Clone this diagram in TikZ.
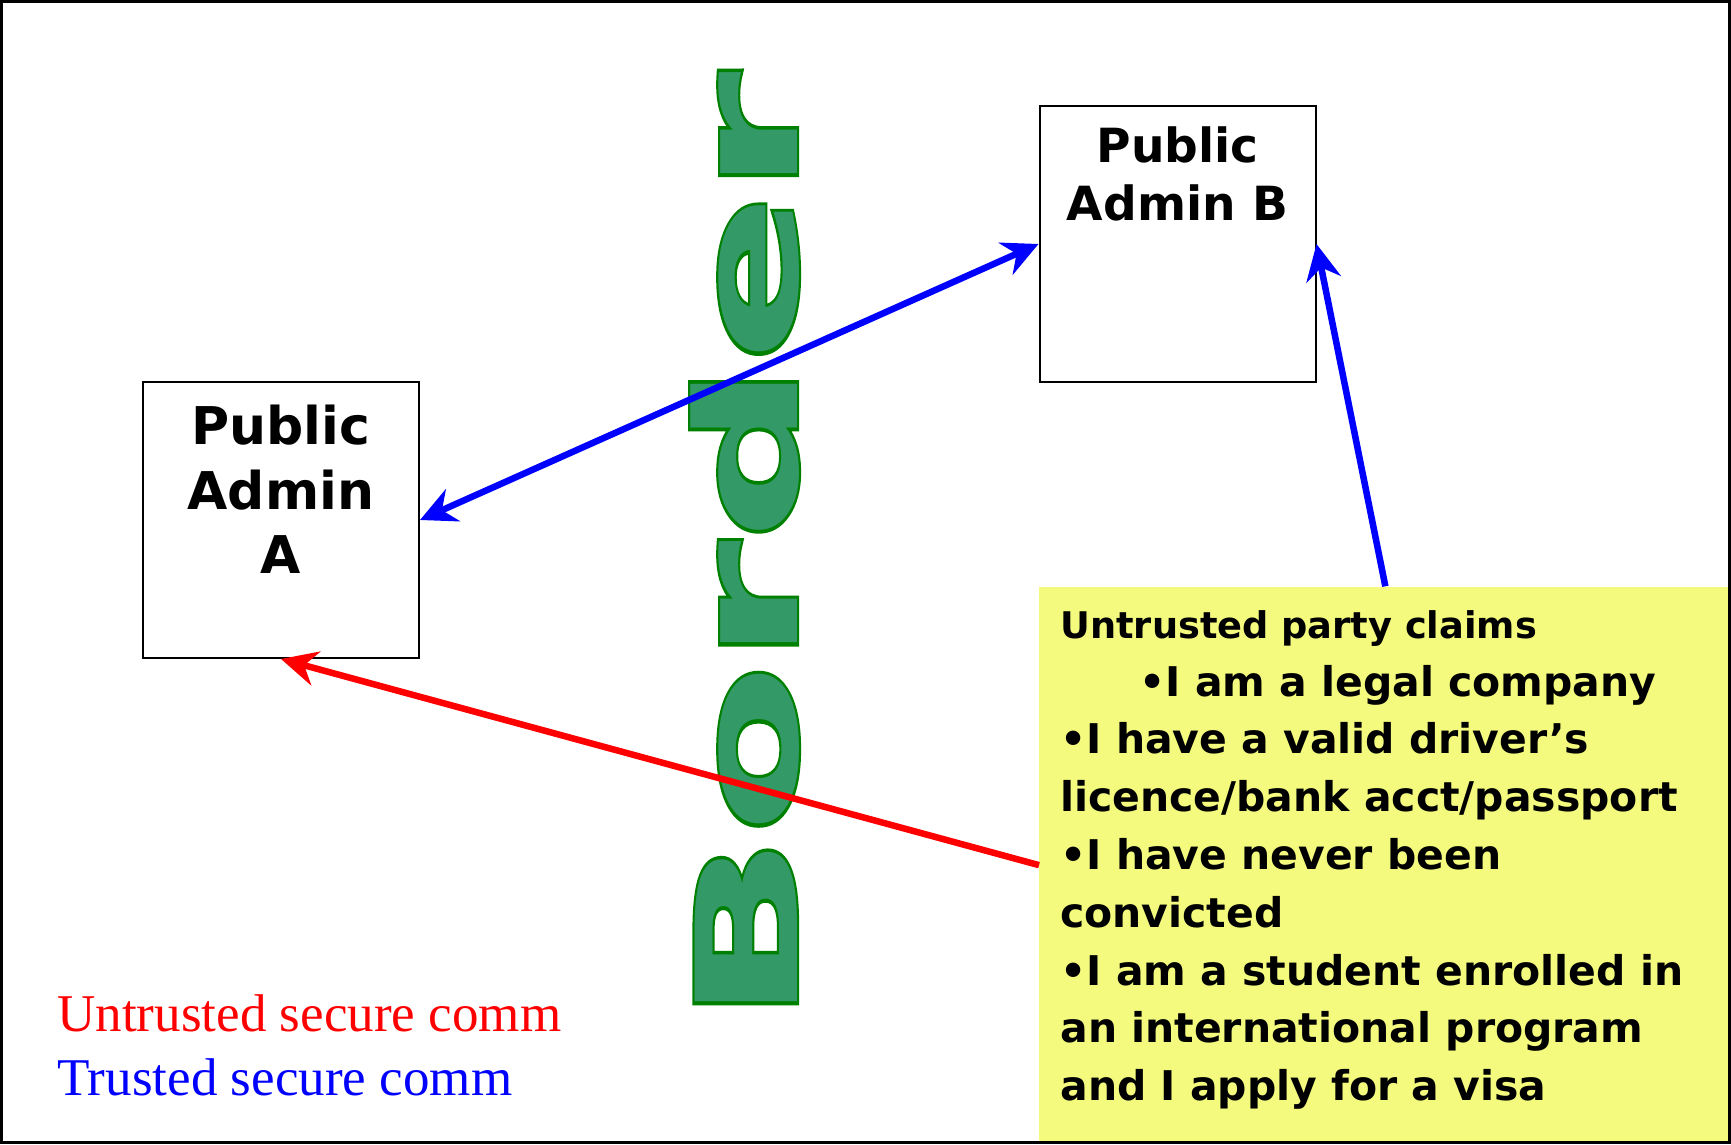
\documentclass[tikz,border=0pt]{standalone}
\usepackage{fontspec}
\usepackage{graphicx}
\usepackage{tikz}
\usetikzlibrary{arrows.meta,
positioning
}
\newfontfamily\dejavu{DejaVu Sans}
\newfontfamily\borderfont{DejaVu Sans Bold}
\newfontfamily\borderedgefont{DejaVu Sans Bold}[FakeBold=3]
\newfontfamily\legendfont{Liberation Serif}
\definecolor{bordergreen}{RGB}{51,153,102}
\definecolor{borderedge}{RGB}{0,128,0}
\definecolor{notefill}{RGB}{243,250,126}
\tikzset{>={Stealth[length=0.72cm, width=0.7cm, inset=0.24cm]}}
\tikzset{
    adminbox/.style = {draw, line width = 0.04cm, minimum width = 5.52cm, minimum height = 5.52cm, inner sep = 0},
    adminlabel/.style = {align = center, inner sep = 0},
    trusted/.style = {draw = blue, line width = 0.13cm},
    untrusted/.style = {draw = red, line width = 0.13cm},
    claims/.style = {align = left, inner sep = 0, font = \dejavu\bfseries\fontsize{23.3}{32.9}\selectfont}
}

\begin{document}
\begin{tikzpicture}
            \useasboundingbox (0,0) rectangle (34.62,22.88);

            % yellow note
            \node[fill = notefill, anchor = south west, minimum width = 13.84cm, minimum height = 11.14cm, inner sep = 0] (note) at (20.78,0) {};

            % the border
            \node[rotate = 90, anchor = base west, inner sep = 0, font = \fontsize{80}{96}\selectfont] (border) at (15.94,2.386)
                {\scalebox{1.77}[1]{\rlap{\borderedgefont\color{borderedge}Border}\borderfont\color{bordergreen}Border}};

            \node[adminbox] (pa) at (5.62,12.48) {};
            \node[adminbox] (pb) at (23.55,18.0) {};
            \node[adminlabel, font = \dejavu\bfseries\fontsize{29.6}{36.8}\selectfont, below = 0.47cm of pa.north] (palabel) {Public\\Admin\\A};
            \node[adminlabel, font = \dejavu\bfseries\fontsize{26.8}{33.2}\selectfont, below = 0.43cm of pb.north] (pblabel) {Public\\Admin B};

            \draw[trusted, <->] (pa.east) -- (pb.west);
            \draw[trusted, ->] (note.north) -- (pb.east);
            \draw[untrusted, ->] (note.west) -- (pa.south);

            \node[claims, anchor = north west] (claimtext) at (21.2,10.68) {%
                {\fontsize{20.9}{32.9}\selectfont Untrusted party claims}\\
                \hspace*{1.58cm}•I am a legal company\\
                •I have a valid driver’s\\
                licence/bank acct/passport\\
                •I have never been\\
                convicted\\
                •I am a student enrolled in\\
                an international program\\
                and I apply for a visa};

            \node[align = left, inner sep = 0, anchor = north west, font = \legendfont\fontsize{30.2}{36.4}\selectfont] (legend) at (1.14,3.0)
                {\color{red}Untrusted secure comm\\\color{blue}Trusted secure comm};

            \draw[line width = 0.054cm] (0.027,0.027) rectangle (34.593,22.853);
\end{tikzpicture}
\end{document}
